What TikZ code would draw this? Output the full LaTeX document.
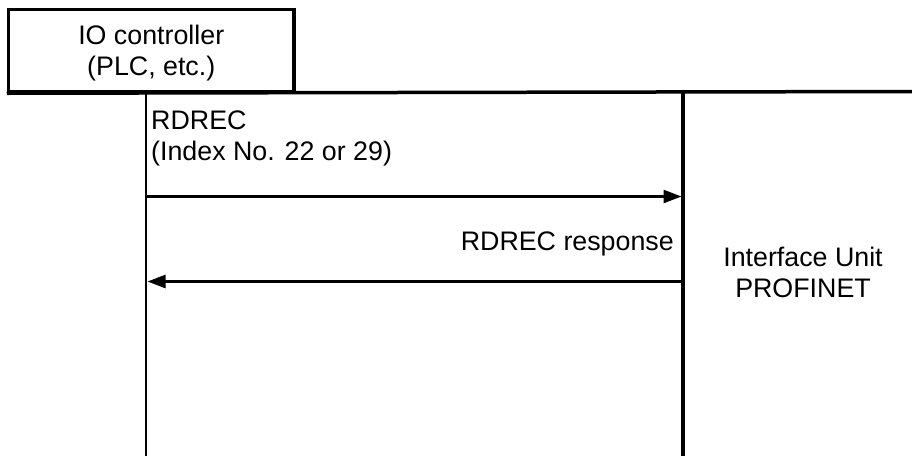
\documentclass[tikz,border=0pt]{standalone}
\usepackage{fontspec}
\setmainfont{Liberation Sans}
\usetikzlibrary{positioning,arrows.meta}
\tikzset{
  ctrlbox/.style={draw=black,line width=3.5pt,minimum width=285.5pt,minimum height=82pt,inner sep=0pt,align=center,font=\fontsize{26.8}{31.5}\selectfont,text depth=0pt},
  lbl/.style={inner sep=0pt,font=\fontsize{26.8}{31.5}\selectfont},
  msg/.style={-{Triangle[length=18pt,width=13pt]},line width=2.5pt,draw=black},
  life/.style={line width=3.5pt,draw=black}
}

\begin{document}
\begin{tikzpicture}[x=1pt,y=-1pt]
\useasboundingbox (0,0) rectangle (912,456);
% Controlador y linea de bus
\node[ctrlbox] (ctrl) at (151.25,50.5) {IO controller\\(PLC, etc.)};
\coordinate (busR) at (912,91.5);
\coordinate (plcT) at (146,91.5);
\coordinate (plcB) at (146,456);
\coordinate (iuT) at (683,91.5);
\coordinate (iuB) at (683,456);
\coordinate (reqA) at (146,196.5);
\coordinate (reqB) at (681.5,196.5);
\coordinate (resA) at (681.5,281.5);
\coordinate (resB) at (147.5,281.5);

\node[lbl,anchor=north west,align=left] (rdrec) at (151,110.5) {RDREC\\(Index No. 22 or 29)};
\node[lbl,anchor=north east] (rdresp) at (674,231.5) {RDREC response};
\node[lbl,anchor=north,align=center] (iu) at (803,246.5) {Interface Unit\\PROFINET};

\draw[life] (ctrl.south west) -- (busR);
\draw[life,line width=2.5pt] (plcT) -- (plcB);
\draw[life] (iuT) -- (iuB);
\draw[msg] (reqA) -- (reqB);
\draw[msg] (resA) -- (resB);
\end{tikzpicture}
\end{document}
